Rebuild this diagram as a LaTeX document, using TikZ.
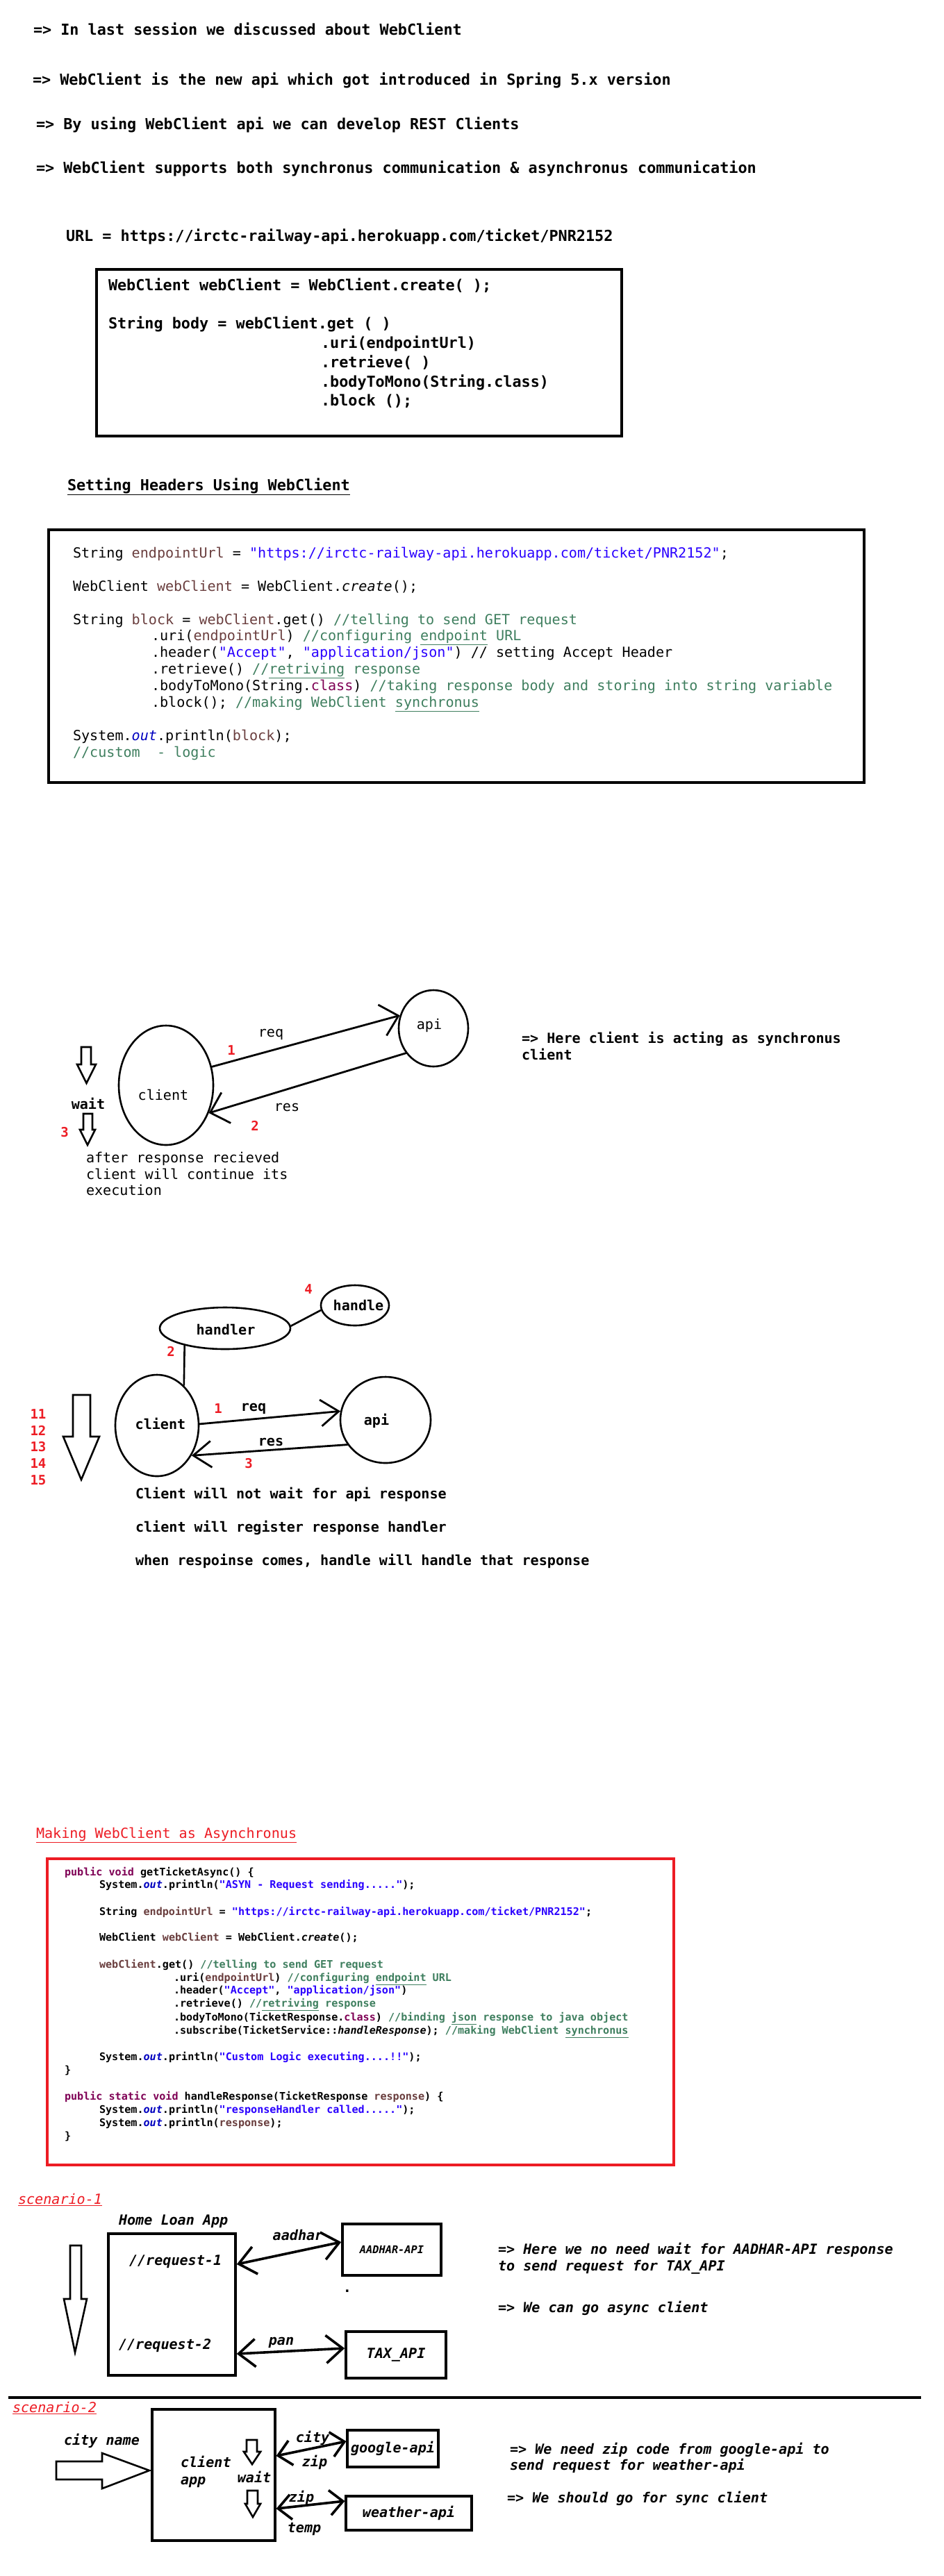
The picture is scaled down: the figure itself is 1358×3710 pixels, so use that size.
\documentclass[tikz,border=0pt]{standalone}
\usepackage{fontspec}
\setmonofont{DejaVu Sans Mono}
\usetikzlibrary{arrows.meta,shapes.geometric}
\definecolor{ckwc}{RGB}{127,0,85}
\definecolor{clvc}{RGB}{106,62,62}
\definecolor{cstrc}{RGB}{42,0,255}
\definecolor{ccmc}{RGB}{63,127,95}
\definecolor{cfldc}{RGB}{0,0,192}
\definecolor{pred}{RGB}{237,28,36}
\newcommand{\ckw}[1]{\textcolor{ckwc}{#1}}
\newcommand{\clv}[1]{\textcolor{clvc}{#1}}
\newcommand{\cstr}[1]{\textcolor{cstrc}{#1}}
\newcommand{\ccm}[1]{\textcolor{ccmc}{#1}}
\newcommand{\cfld}[1]{\textcolor{cfldc}{\textit{#1}}}
\begin{document}
\begin{tikzpicture}[x=1pt,y=-1pt,
  base/.style={inner sep=0pt, outer sep=0pt, anchor=mid west},
  topt/.style={base, font=\ttfamily\bfseries\fontsize{21.8pt}{26pt}\selectfont},
  codeB/.style={base, font=\ttfamily\fontsize{20.1pt}{24pt}\selectfont},
  codeR/.style={base, font=\ttfamily\bfseries\fontsize{15.1pt}{19pt}\selectfont},
  txtr/.style={base, font=\ttfamily\fontsize{20.1pt}{24pt}\selectfont},
  txtb/.style={base, font=\ttfamily\bfseries\fontsize{20.1pt}{24pt}\selectfont},
  txtbi/.style={base, font=\ttfamily\bfseries\itshape\fontsize{20.1pt}{24pt}\selectfont},
  lab/.style={inner sep=0pt, font=\ttfamily\fontsize{20.1pt}{24pt}\selectfont},
  labb/.style={inner sep=0pt, font=\ttfamily\bfseries\fontsize{20.1pt}{24pt}\selectfont},
  labbi/.style={inner sep=0pt, font=\ttfamily\bfseries\itshape\fontsize{20.1pt}{24pt}\selectfont},
  num/.style={inner sep=0pt, text=pred, font=\ttfamily\bfseries\fontsize{19pt}{22pt}\selectfont},
  redhead/.style={base, text=pred, font=\ttfamily\itshape\fontsize{20.1pt}{24pt}\selectfont},
  oval/.style={draw, ellipse, line width=2.6pt, inner sep=0pt},
  conn/.style={line width=2.8pt, line cap=round, -{Straight Barb[length=24pt,width=46pt]}},
  conntwo/.style={line width=2.8pt, line cap=round, -{Straight Barb[length=26pt,width=38pt]}},
  dconn/.style={line width=3.6pt, line cap=round, {Straight Barb[length=24pt,width=40pt]}-{Straight Barb[length=24pt,width=40pt]}},
  dconntwo/.style={line width=3.6pt, line cap=round, {Straight Barb[length=19pt,width=36pt]}-{Straight Barb[length=19pt,width=36pt]}},
  hollow/.style={draw, line width=2.6pt, line join=miter},
  box/.style={draw, rectangle, line width=3.6pt, inner sep=0pt},
]
\useasboundingbox (0,0) rectangle (1358,3710);
\fill[white] (0,0) rectangle (1358,3710);

% ---------- top text ----------
\node[topt] (l1) at (48,48) {=> In last session we discussed about WebClient};
\node[topt] (l2) at (47,120) {=> WebClient is the new api which got introduced in Spring 5.x version};
\node[topt] (l3) at (52,184) {=> By using WebClient api we can develop REST Clients};
\node[topt] (l4) at (52,247) {=> WebClient supports both synchronus communication \& asynchronus communication};
\node[topt] (url) at (95,345) {URL = https://irctc-railway-api.herokuapp.com/ticket/PNR2152};

% ---------- code box 1 ----------
\draw[line width=3.5pt] (139,388) rectangle (895,628);
\node[topt] (b1a) at (156,416) {WebClient webClient = WebClient.create( );};
\node[topt] (b1b) at (156,471) {String body = webClient.get ( )};
\node[topt] (b1c) at (462,499) {.uri(endpointUrl)};
\node[topt] (b1d) at (462,527) {.retrieve( )};
\node[topt] (b1e) at (462,555) {.bodyToMono(String.class)};
\node[topt] (b1f) at (462,582) {.block ();};

\node[topt] (hdr) at (97,704) {\underline{Setting Headers Using WebClient}};

% ---------- code box 2 ----------
\draw[line width=3.5pt] (70,763) rectangle (1244,1127);
\node[codeB] (c2a) at (105,801) {String \clv{endpointUrl} = \cstr{"https://irctc-railway-api.herokuapp.com/ticket/PNR2152"};};
\node[codeB] (c2b) at (105,849) {WebClient \clv{webClient} = WebClient.\textit{create}();};
\node[codeB] (c2c) at (105,897) {String \clv{block} = \clv{webClient}.get() \ccm{//telling to send GET request}};
\node[codeB] (c2d) at (218,920) {.uri(\clv{endpointUrl}) \ccm{//configuring \underline{endpoint} URL}};
\node[codeB] (c2e) at (218,944) {.header(\cstr{"Accept"}, \cstr{"application/json"}) // setting Accept Header};
\node[codeB] (c2f) at (218,968) {.retrieve() \ccm{//\underline{retriving} response}};
\node[codeB] (c2g) at (218,992) {.bodyToMono(String.\ckw{class}) \ccm{//taking response body and storing into string variable}};
\node[codeB] (c2h) at (218,1016) {.block(); \ccm{//making WebClient \underline{synchronus}}};
\node[codeB] (c2i) at (105,1064) {System.\cfld{out}.println(\clv{block});};
\node[codeB] (c2j) at (105,1088) {\ccm{//custom\ \ - logic}};

% ---------- sync diagram ----------
\node[oval, minimum width=136pt, minimum height=172pt] (sc) at (239,1563) {};
\node[oval, minimum width=100pt, minimum height=110pt] (sa) at (624,1481) {};
\node[lab] (scl) at (235,1577) {client};
\node[lab] (sal) at (618,1477) {api};
\draw[conn] (sc.22) -- (sa.159);
\draw[conn] (sa.222) -- (sc.-33);
\node[lab] (sreq) at (390,1490) {req};
\node[num] (sn1) at (333,1513) {1};
\node[lab] (sres) at (413,1595) {res};
\node[num] (sn2) at (367,1621) {2};
\node[labb] (swait) at (127,1589) {wait};
\node[num] (sn3) at (93,1631) {3};
\draw[hollow] (117,1508) -- (131,1508) -- (131,1533) -- (138,1533) -- (124.5,1560) -- (111,1533) -- (117,1533) -- cycle;
\draw[hollow] (120,1604) -- (133,1604) -- (133,1627) -- (137,1627) -- (126,1649) -- (115,1627) -- (120,1627) -- cycle;
\node[txtr] (saf1) at (124,1672) {after response recieved};
\node[txtr] (saf2) at (124,1696) {client will continue its};
\node[txtr] (saf3) at (124,1719) {execution};
\node[txtb] (sh1) at (751,1500) {=> Here client is acting as synchronus};
\node[txtb] (sh2) at (751,1524) {client};

% ---------- async diagram ----------
\node[oval, minimum width=98pt, minimum height=58pt] (ah) at (511,1880) {};
\node[labb] (ahl) at (516,1880) {handle};
\node[oval, minimum width=188pt, minimum height=60pt] (ahr) at (324,1913) {};
\node[labb] (ahrl) at (325,1915) {handler};
\node[num] (an4) at (444,1857) {4};
\draw[line width=2.6pt] (ahr.2) -- (ah.188);
\node[num] (an2) at (246,1946) {2};
\node[oval, minimum width=120pt, minimum height=146pt] (ac) at (226,2053) {};
\draw[line width=2.6pt] (ahr.-157) -- (ac.56);
\node[labb] (acl) at (231,2050) {client};
\node[oval, minimum width=130pt, minimum height=124pt] (aa) at (555,2045) {};
\node[labb] (aal) at (542,2046) {api};
\draw[conntwo] (ac.2) -- (aa.169);
\draw[conntwo] (aa.213) -- (ac.-41);
\node[num] (an1) at (314,2029) {1};
\node[labb] (areq) at (365,2029) {req};
\node[labb] (ares) at (390,2077) {res};
\node[num] (an3) at (358,2108) {3};
\draw[hollow] (105,2009) -- (130,2009) -- (130,2069) -- (143,2069) -- (117,2131) -- (91,2069) -- (105,2069) -- cycle;
\node[num] (n11) at (55,2037) {11};
\node[num] (n12) at (55,2060) {12};
\node[num] (n13) at (55,2084) {13};
\node[num] (n14) at (55,2108) {14};
\node[num] (n15) at (55,2132) {15};
\node[txtb] (at1) at (195,2156) {Client will not wait for api response};
\node[txtb] (at2) at (195,2204) {client will register response handler};
\node[txtb] (at3) at (195,2252) {when respoinse comes, handle will handle that response};

% ---------- async code ----------
\node[redhead, font=\ttfamily\fontsize{20.1pt}{24pt}\selectfont] (mk) at (52,2645) {\underline{Making WebClient as Asynchronus}};
\draw[pred, line width=3.5pt] (68,2677) rectangle (970,3118);
\node[codeR] (r01) at (93,2699) {\ckw{public void} getTicketAsync() \{};
\node[codeR] (r02) at (143,2717) {System.\cfld{out}.println(\cstr{"ASYN - Request sending....."});};
\node[codeR] (r03) at (143,2756) {String \clv{endpointUrl} = \cstr{"https://irctc-railway-api.herokuapp.com/ticket/PNR2152"};};
\node[codeR] (r04) at (143,2793) {WebClient \clv{webClient} = WebClient.\textit{create}();};
\node[codeR] (r05) at (143,2832) {\clv{webClient}.get() \ccm{//telling to send GET request}};
\node[codeR] (r06) at (250,2851) {.uri(\clv{endpointUrl}) \ccm{//configuring \underline{endpoint} URL}};
\node[codeR] (r07) at (250,2869) {.header(\cstr{"Accept"}, \cstr{"application/json"})};
\node[codeR] (r08) at (250,2888) {.retrieve() \ccm{//\underline{retriving} response}};
\node[codeR] (r09) at (250,2908) {.bodyToMono(TicketResponse.\ckw{class}) \ccm{//binding \underline{json} response to java object}};
\node[codeR] (r10) at (250,2927) {.subscribe(TicketService::\textit{handleResponse}); \ccm{//making WebClient \underline{synchronus}}};
\node[codeR] (r11) at (143,2965) {System.\cfld{out}.println(\cstr{"Custom Logic executing....!!"});};
\node[codeR] (r12) at (93,2984) {\}};
\node[codeR] (r13) at (93,3022) {\ckw{public static void} handleResponse(TicketResponse \clv{response}) \{};
\node[codeR] (r14) at (143,3041) {System.\cfld{out}.println(\cstr{"responseHandler called....."});};
\node[codeR] (r15) at (143,3060) {System.\cfld{out}.println(\clv{response});};
\node[codeR] (r16) at (93,3079) {\}};

% ---------- scenario 1 ----------
\node[redhead] (s1h) at (26,3172) {\underline{scenario-1}};
\node[txtbi] (hla) at (171,3202) {Home Loan App};
\node[box, minimum width=183pt, minimum height=204pt] (home) at (247.5,3319) {};
\node[txtbi] (rq1) at (186,3260) {//request-1};
\node[txtbi] (rq2) at (171,3381) {//request-2};
\node[box, minimum width=142pt, minimum height=74pt, font=\ttfamily\bfseries\itshape\fontsize{15.3pt}{18pt}\selectfont] (aad) at (564,3240) {AADHAR-API};
\node[box, minimum width=144pt, minimum height=67pt, font=\ttfamily\bfseries\itshape\fontsize{20.1pt}{24pt}\selectfont] (tax) at (570,3391.5) {TAX\_API};
\coordinate (ya) at (0,3261);
\coordinate (yb) at (0,3229);
\coordinate (yc) at (0,3390);
\coordinate (yd) at (0,3382);
\draw[dconn] (home.east |- ya) -- (aad.west |- yb);
\draw[dconn] (home.east |- yc) -- (tax.west |- yd);
\node[labbi] (aadl) at (429,3219) {aadhar};
\node[labbi] (panl) at (405,3374) {pan};
\node[labb] (dot) at (500,3300) {.};
\draw[hollow] (101,3234) -- (117,3234) -- (117,3311) -- (125,3311) -- (108,3388) -- (92,3311) -- (101,3311) -- cycle;
\node[txtbi] (s1t1) at (717,3244) {=> Here we no need wait for AADHAR-API response};
\node[txtbi] (s1t2) at (717,3268) {to send request for TAX\_API};
\node[txtbi] (s1t3) at (717,3328) {=> We can go async client};

% ---------- separator ----------
\draw[line width=3.5pt] (12,3453) -- (1326,3453);

% ---------- scenario 2 ----------
\node[redhead] (s2h) at (18,3472) {\underline{scenario-2}};
\node[box, line width=3.2pt, minimum width=177pt, minimum height=189pt] (capp) at (307.5,3564.5) {};
\node[txtbi] (capp1) at (260,3551) {client};
\node[txtbi] (capp2) at (260,3576) {app};
\node[txtbi] (cityn) at (92,3519) {city name};
\draw[hollow] (81,3545) -- (147,3545) -- (147,3533) -- (215,3558) -- (147,3584) -- (147,3571) -- (81,3571) -- cycle;
\node[box, line width=3.2pt, minimum width=131pt, minimum height=53pt, font=\ttfamily\bfseries\itshape\fontsize{20.1pt}{24pt}\selectfont] (goog) at (565.5,3526.5) {google-api};
\node[box, line width=3.2pt, minimum width=181pt, minimum height=49pt, font=\ttfamily\bfseries\itshape\fontsize{20.1pt}{24pt}\selectfont] (weat) at (588.5,3619.5) {weather-api};
\coordinate (ye) at (0,3537);
\coordinate (yf) at (0,3516);
\coordinate (yg) at (0,3613);
\coordinate (yh) at (0,3602);
\draw[dconntwo] (capp.east |- ye) -- (goog.west |- yf);
\draw[dconntwo] (capp.east |- yg) -- (weat.west |- yh);
\node[labbi] (cityl) at (450,3511) {city};
\node[labbi] (zip1) at (453,3546) {zip};
\node[labbi] (waitl) at (366,3567) {wait};
\node[labbi] (zip2) at (434,3597) {zip};
\node[labbi] (templ) at (438,3642) {temp};
\draw[hollow] (355,3514) -- (370,3514) -- (370,3531) -- (375,3531) -- (363,3549) -- (351,3531) -- (355,3531) -- cycle;
\draw[hollow] (356,3587) -- (371,3587) -- (371,3606) -- (375,3606) -- (364,3625) -- (353,3606) -- (356,3606) -- cycle;
\node[txtbi] (s2t1) at (734,3532) {=> We need zip code from google-api to};
\node[txtbi] (s2t2) at (734,3555) {send request for weather-api};
\node[txtbi] (s2t3) at (730,3602) {=> We should go for sync client};
\end{tikzpicture}
\end{document}
